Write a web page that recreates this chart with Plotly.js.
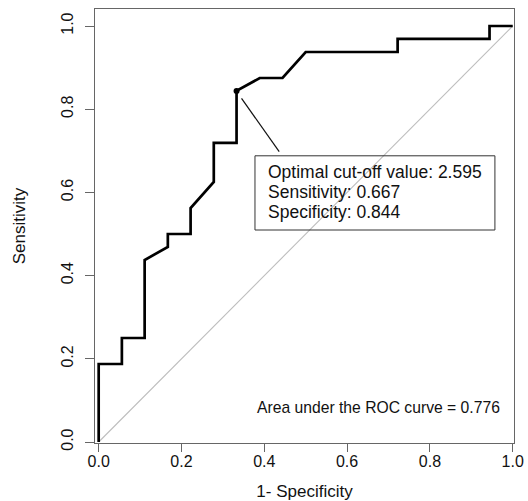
<!DOCTYPE html>
<html>
<head>
<meta charset="utf-8">
<script src="https://cdn.plot.ly/plotly-3.0.1.min.js"></script>
<style>html,body{margin:0;padding:0;background:#fff;}#chart{width:528px;height:501px;}</style>
</head>
<body>
<div id="chart"></div>
<script>
// ROC curve points (1 - specificity, sensitivity)
var fpr = [0, 0, 0.056, 0.056, 0.111, 0.111, 0.167, 0.167, 0.222, 0.222, 0.278, 0.278, 0.333, 0.333, 0.389, 0.444, 0.5, 0.722, 0.722, 0.944, 0.944, 1];
var tpr = [0, 0.1875, 0.1875, 0.25, 0.25, 0.4375, 0.469, 0.5, 0.5, 0.5625, 0.625, 0.719, 0.719, 0.844, 0.875, 0.875, 0.9375, 0.9375, 0.969, 0.969, 1, 1];
// reference diagonal
var diagX = [0, 1];
var diagY = [0, 1];
// optimal cut-off point
var optX = [0.333];
var optY = [0.844];
var tickVals = [0, 0.2, 0.4, 0.6, 0.8, 1.0];
var tickText = ["0.0", "0.2", "0.4", "0.6", "0.8", "1.0"];
var boxLines = ["Optimal cut-off value: 2.595", "Sensitivity: 0.667", "Specificity: 0.844"];
var aucText = "Area under the ROC curve = 0.776";
var xTitle = "1- Specificity";
var yTitle = "Sensitivity";

var FONT = "Liberation Sans, Arial, Helvetica, sans-serif";

var traces = [
  {x: diagX, y: diagY, mode: "lines", line: {color: "#bdbdbd", width: 1.1}, hoverinfo: "skip", showlegend: false},
  {x: fpr, y: tpr, mode: "lines", line: {color: "#000", width: 2.7}, showlegend: false},
  {x: optX, y: optY, mode: "markers", marker: {color: "#000", size: 6}, showlegend: false}
];

var annotations = [];
var lineY = [0.650, 0.601, 0.553];
for (var i = 0; i < boxLines.length; i++) {
  annotations.push({x: 0.405, y: lineY[i], xref: "x", yref: "y", text: boxLines[i], showarrow: false,
    xanchor: "left", yanchor: "middle", font: {family: FONT, size: 17.5, color: "#111"}});
}
annotations.push({x: 0.378, y: 0.083, xref: "x", yref: "y", text: aucText, showarrow: false,
  xanchor: "left", yanchor: "middle", font: {family: FONT, size: 15.7, color: "#111"}});

var layout = {
  width: 528, height: 501,
  margin: {l: 95, r: 14, t: 9, b: 58},
  paper_bgcolor: "#fff", plot_bgcolor: "#fff",
  font: {family: FONT, color: "#111"},
  showlegend: false,
  xaxis: {
    range: [-0.0089, 1.0031], tickvals: tickVals, ticktext: tickText,
    ticks: "outside", ticklen: 8, tickcolor: "#666", tickwidth: 1, ticklabelstandoff: -4,
    showline: true, mirror: true, linecolor: "#666", linewidth: 1,
    showgrid: false, zeroline: false,
    tickfont: {family: FONT, size: 16, color: "#111"},
    title: {text: xTitle, font: {family: FONT, size: 17, color: "#111"}, standoff: 16},
    automargin: false
  },
  yaxis: {
    range: [-0.0024, 1.0409], tickvals: tickVals, ticktext: tickText,
    ticks: "outside", ticklen: 9, tickcolor: "#666", tickwidth: 1, tickangle: -90, ticklabelstandoff: 6,
    showline: true, mirror: true, linecolor: "#666", linewidth: 1,
    showgrid: false, zeroline: false,
    tickfont: {family: FONT, size: 16, color: "#111"},
    title: {text: yTitle, font: {family: FONT, size: 17, color: "#111"}, standoff: 28},
    automargin: false
  },
  shapes: [
    {type: "rect", xref: "x", yref: "y", x0: 0.3775, x1: 0.957, y0: 0.5096, y1: 0.688,
      line: {color: "#333", width: 1}, fillcolor: "rgba(0,0,0,0)"},
    {type: "line", xref: "x", yref: "y", x0: 0.345, y0: 0.826, x1: 0.436, y1: 0.698,
      line: {color: "#111", width: 1.2}}
  ],
  annotations: annotations
};

Plotly.newPlot("chart", traces, layout, {displayModeBar: false, staticPlot: true});
</script>
</body>
</html>
